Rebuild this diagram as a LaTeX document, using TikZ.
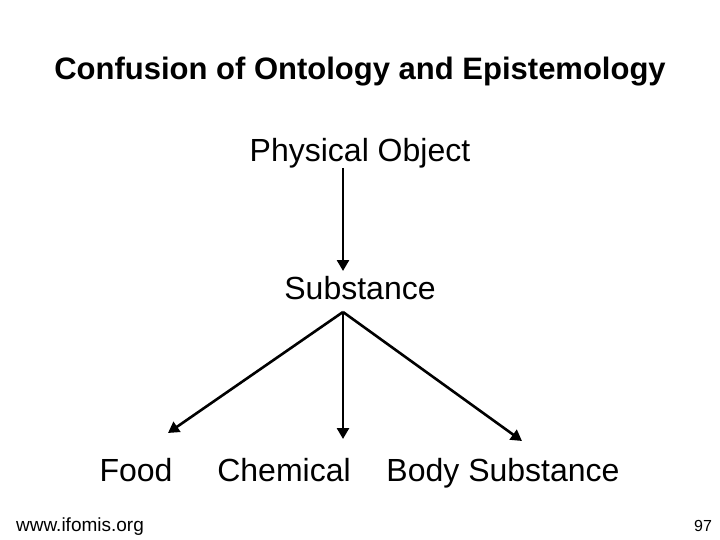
\documentclass[tikz,border=0pt]{standalone}
\usepackage{fontspec}
\setmainfont{Liberation Sans}
\usetikzlibrary{arrows.meta}
\begin{document}
\begin{tikzpicture}[x=1pt,y=-1pt,
  lbl/.style={font=\fontsize{32}{36}\selectfont, inner sep=0pt, anchor=base},
  arr/.style={-{Triangle[width=12pt,length=11pt]}, line width=2.6pt}]
\useasboundingbox (0,0) rectangle (720,540);
\node[font=\bfseries\fontsize{31}{36}\selectfont, inner sep=0pt, anchor=base] (title) at (360,80) {Confusion of Ontology and Epistemology};
\node[lbl] (po) at (360,162) {Physical Object};
\node[lbl] (sub) at (360,299) {Substance};
\node[lbl] (food) at (136,481) {Food};
\node[lbl] (chem) at (284,481) {Chemical};
\node[lbl] (body) at (503,481) {Body Substance};
\coordinate (a1) at (343,168);
\coordinate (a2) at (343,271);
\coordinate (s) at (343,312);
\coordinate (e1) at (168,433);
\coordinate (e2) at (343,439);
\coordinate (e3) at (522,441);
\draw[arr] (a1) -- (a2);
\draw[arr] (s) -- (e1);
\draw[arr] (s) -- (e2);
\draw[arr] (s) -- (e3);
\node[font=\fontsize{19}{22}\selectfont, inner sep=0pt, anchor=base] (url) at (80,531) {www.ifomis.org};
\node[font=\fontsize{16}{18}\selectfont, inner sep=0pt, anchor=base] (pg) at (703,531) {97};
\end{tikzpicture}
\end{document}
